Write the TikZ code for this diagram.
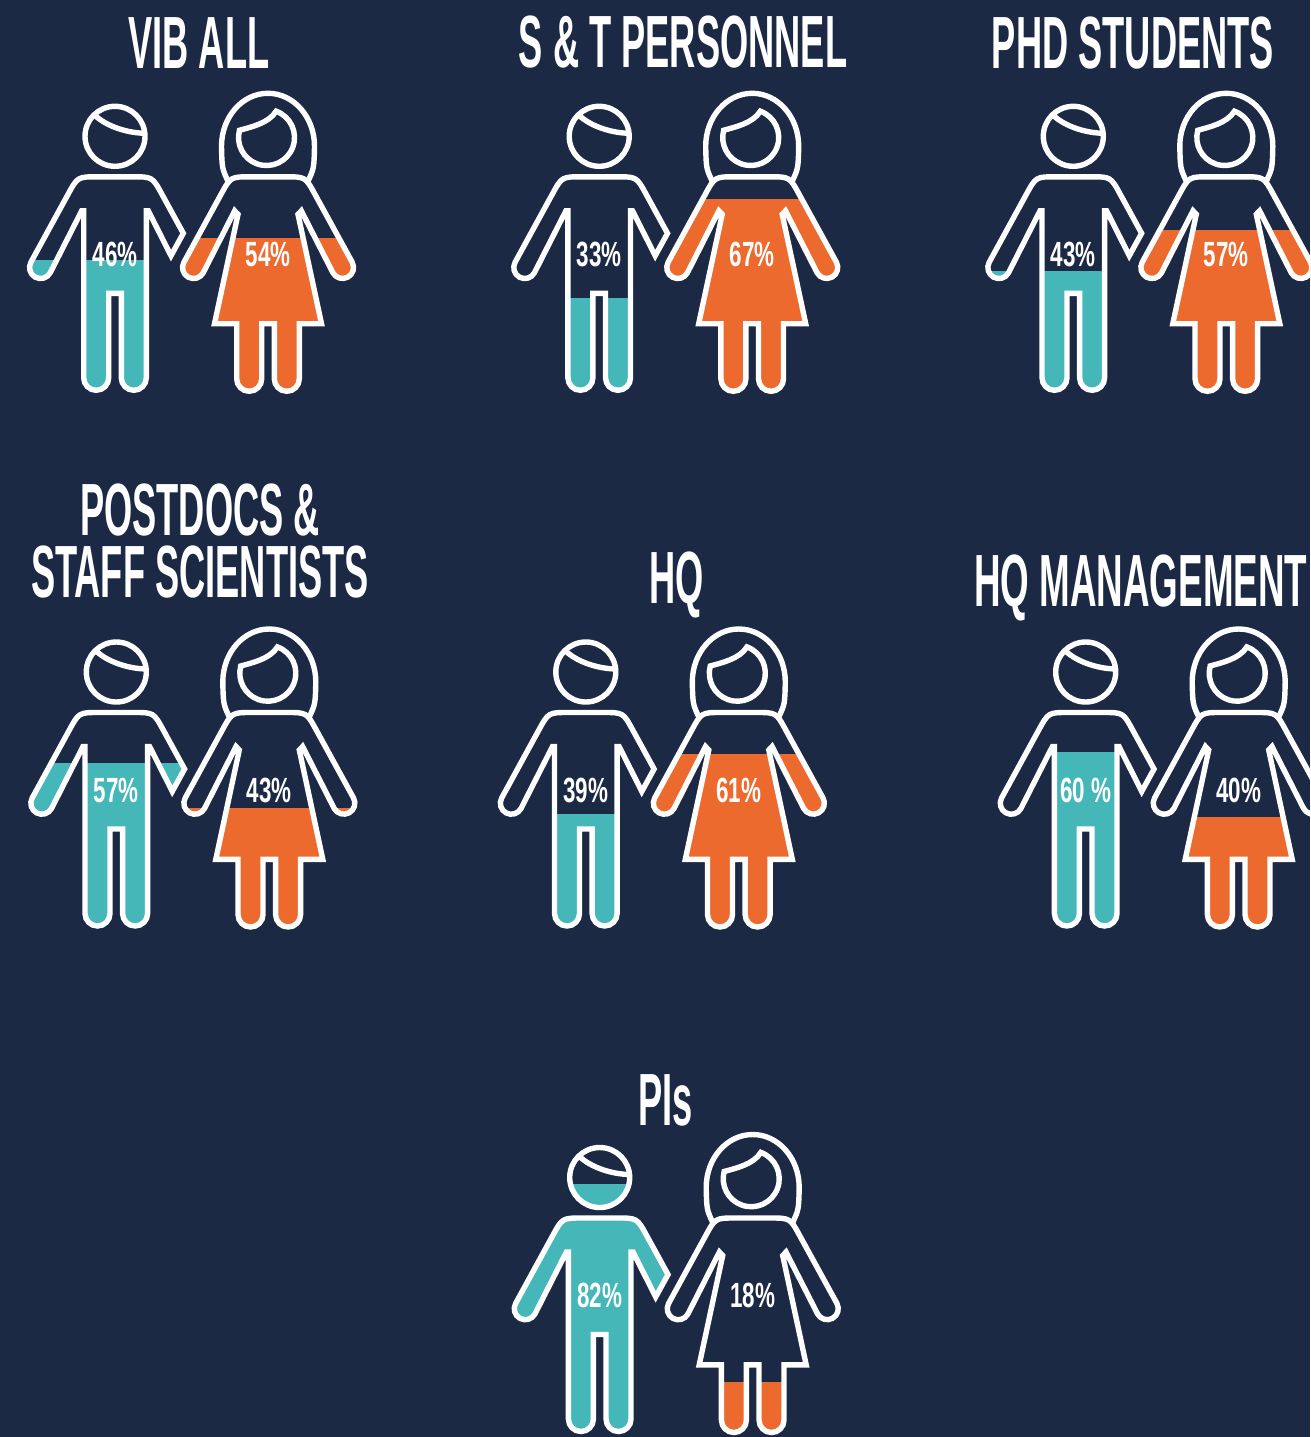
\documentclass[tikz,border=0pt]{standalone}
\usepackage{fontspec}
\newfontfamily\titlefont[FakeStretch=0.49]{Liberation Sans}
\newfontfamily\pctfont[FakeStretch=0.64]{Liberation Sans}
\definecolor{navy}{HTML}{1C2944}
\definecolor{manteal}{HTML}{45B7B9}
\definecolor{womanorange}{HTML}{EC6A2E}

% outlines, in picture px round the head centre
\newcommand{\manbody}{(-17.4,40.5) -- (17.4,40.5) .. controls (37.4,40.5) .. (47,58.1) -- (68.3,97) -- (56,119.4) -- (33.3,74.5) -- (31.3,74.5) -- (31.3,241.5) arc[start angle=0,end angle=180,radius=12.5] -- (6.3,157) -- (-6.3,157) -- (-6.3,241.5) arc[start angle=0,end angle=180,radius=12.5] -- (-31.3,74.5) -- (-33.3,74.5) -- (-64.8,136.5) arc[start angle=28.6,end angle=208.6,radius=11] -- (-47,58.1) .. controls (-37.4,40.5) .. (-17.4,40.5) -- cycle}
\newcommand{\manhair}{(-20.8,-21.6) .. controls (-8,-9) and (15,-3) .. (29.8,-3.1)}
\newcommand{\womanbody}{(-17.4,40.5) -- (17.4,40.5) .. controls (37.4,40.5) .. (47,58.1) -- (84.2,125.9) arc[start angle=-28.6,end angle=151.4,radius=11] -- (33.3,74.5) -- (30,78) -- (53.5,187.4) -- (31.3,187.4) -- (31.3,242.5) arc[start angle=0,end angle=180,radius=12.5] -- (6.3,187.4) -- (-6.3,187.4) -- (-6.3,242.5) arc[start angle=0,end angle=180,radius=12.5] -- (-31.3,187.4) -- (-53.5,187.4) -- (-30,78) -- (-33.3,74.5) -- (-64.8,136.5) arc[start angle=28.6,end angle=208.6,radius=11] -- (-47,58.1) .. controls (-37.4,40.5) .. (-17.4,40.5) -- cycle}
\newcommand{\womanhair}{(-40,45) .. controls (-46,32) .. (-46.5,10) arc[start angle=180,end angle=360,x radius=46.5,y radius=53] .. controls (46,32) .. (40,45)}
\newcommand{\womanface}{(8.1,-25.1) arc[start angle=-70,end angle=195,radius=28] .. controls (-18,-9) and (1,-13) .. (8.1,-25.1) -- cycle}

\begin{document}
\begin{tikzpicture}[x=1pt,y=-1pt,
    outline/.style={draw=white,line width=5.4pt},
    pct/.style={font=\pctfont\bfseries\fontsize{35}{35}\selectfont,text=white,inner sep=0pt,anchor=base},
    title/.style={font=\titlefont\bfseries\fontsize{74}{62}\selectfont,text=white,inner sep=0pt,anchor=base,text height=54pt,text depth=0pt}]
  \useasboundingbox (0,0) rectangle (1310,1437);
  \clip (0,0) rectangle (1310,1437);
  \fill[navy] (0,0) rectangle (1310,1437);

  % name/man x/head y/man level/man label/fill half width/woman level/woman label
  \foreach \nm/\mx/\my/\ml/\mp/\mw/\wl/\wp in {
      vib/115/136.3/260/46\%/100/238.3/54\%,
      st/599.2/136.3/298.3/33\%/100/199.3/67\%,
      phd/1073.3/136.3/271/43\%/100/230/57\%,
      post/116.3/672/762.7/57\%/100/807.7/43\%,
      hq/585.8/672/814/39\%/100/754.3/61\%,
      hqm/1085.7/672/751.7/60 \%/31.3/816.7/40\%,
      pis/599.7/1177.5/1184/82\%/100/1381.7/18\%}
  {
    % man
    \begin{scope}[shift={(\mx,\my)}]
      \begin{scope}
        \clip \manbody (0,0) circle[radius=30];
        \fill[manteal] (-\mw,\ml-\my) rectangle (\mw,300);
      \end{scope}
      \draw[outline] \manbody;
      \draw[outline] (0,0) circle[radius=30];
      \draw[outline] \manhair;
      \node[pct] (m\nm) at (0,130.4) {\mp};
    \end{scope}
    % woman
    \begin{scope}[shift={(\mx+153,\my)}]
      \begin{scope}
        \clip \womanbody;
        \fill[womanorange] (-100,\wl-\my) rectangle (100,300);
      \end{scope}
      \draw[outline] \womanbody;
      \draw[outline] \womanhair;
      \draw[outline] \womanface;
      \node[pct] (w\nm) at (0,130.4) {\wp};
    \end{scope}
  }

  \node[title] (tvib) at (199,69) {VIB ALL};
  \node[title] (tst) at (683,67) {S \& T PERSONNEL};
  \node[title] (tphd) at (1133,68) {PHD STUDENTS};
  \node[title,align=center] (tpost) at (200,597) {POSTDOCS \&\\STAFF SCIENTISTS};
  \node[title] (thq) at (676.5,603) {HQ};
  \node[title,anchor=base west] (thqm) at (974,606) {\scalebox{1.015}[1]{HQ MANAGEMENT}};
  \node[title] (tpis) at (665.5,1125) {PIs};
\end{tikzpicture}
\end{document}
